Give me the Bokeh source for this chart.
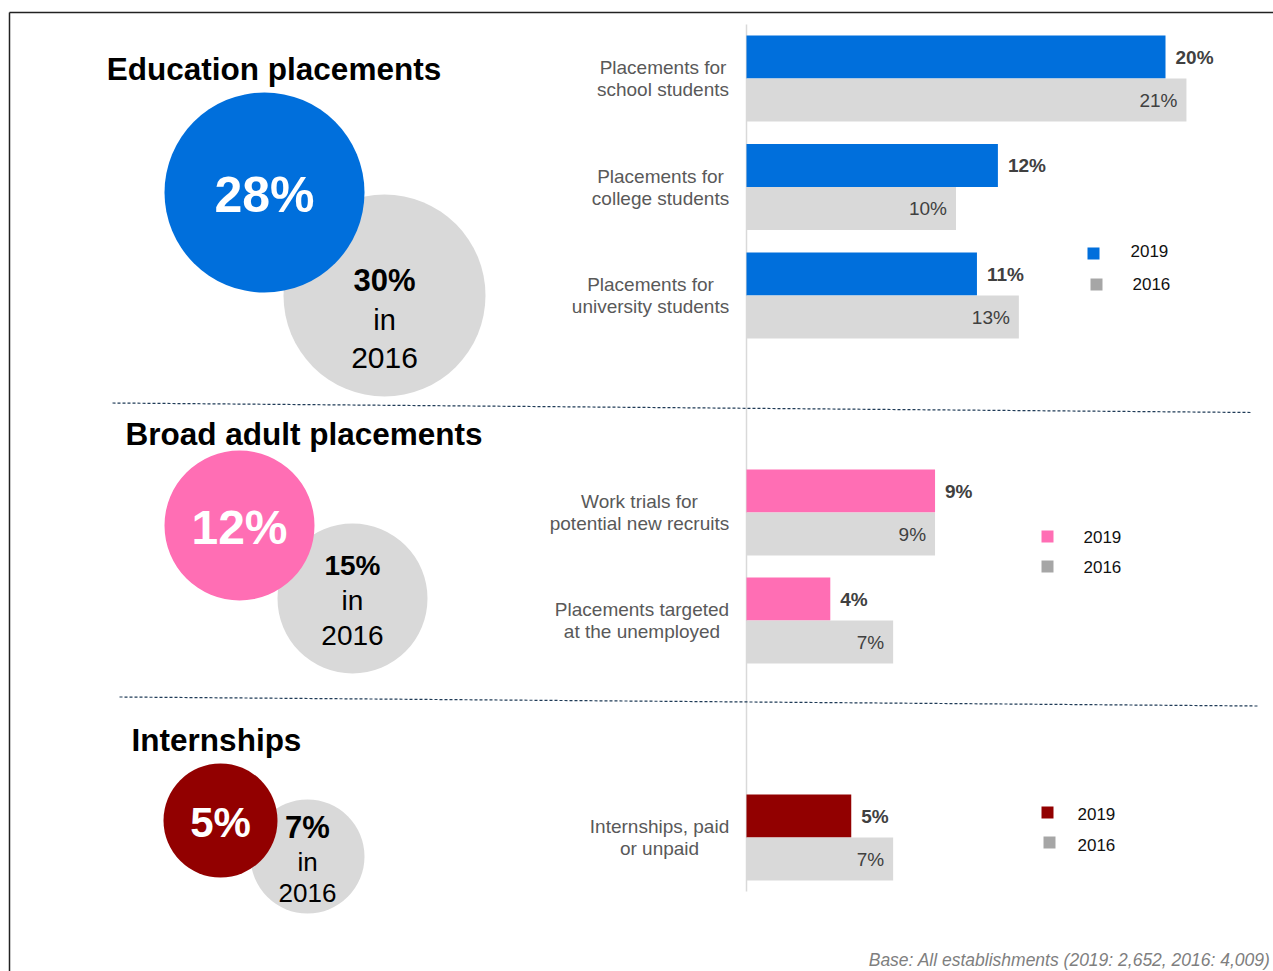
from bokeh.plotting import figure
from bokeh.models import Range1d, ColumnDataSource
from bokeh.core.properties import value
from bokeh.embed import file_html
from bokeh.resources import INLINE

# ---------------- data ----------------
section_titles = ["Education placements", "Broad adult placements", "Internships"]
totals_2019 = [28, 12, 5]
totals_2016 = [30, 15, 7]

edu_cats = [["Placements for", "school students"],
            ["Placements for", "college students"],
            ["Placements for", "university students"]]
edu_2019 = [20, 12, 11]
edu_2016 = [21, 10, 13]

adult_cats = [["Work trials for", "potential new recruits"],
              ["Placements targeted", "at the unemployed"]]
adult_2019 = [9, 4]
adult_2016 = [9, 7]

intern_cats = [["Internships, paid", "or unpaid"]]
intern_2019 = [5]
intern_2016 = [7]

legend_labels = ["2019", "2016"]
footnote = "Base: All establishments (2019: 2,652, 2016: 4,009)"

# ---------------- style / layout ----------------
FONT = value("Liberation Sans")
BLUE = "#006fdc"
PINK = "#ff6eb4"
RED = "#920000"
GREY_BAR = "#d9d9d9"
GREY_LEG = "#a6a6a6"
TXT = "#404040"
CAT_TXT = "#595959"

W, H = 1273, 971
p = figure(width=W, height=H, output_backend="svg", toolbar_location=None,
           x_range=Range1d(0, W), y_range=Range1d(H, 0), min_border=0)
p.axis.visible = False
p.grid.visible = False
p.outline_line_color = None
p.background_fill_color = "white"

# percentage scale for bars: 0% at x=746, 20.95 px per percent
ZERO_X, PX_PER = 746, 20.95
p.extra_x_ranges = {"pct": Range1d((0 - ZERO_X) / PX_PER, (W - ZERO_X) / PX_PER)}

# frame lines
p.line([9, W], [12, 12], line_color="#222222", line_width=1.5)
p.line([9, 9], [12, H], line_color="#222222", line_width=1.5)

# vertical axis line
p.line([ZERO_X, ZERO_X], [24, 891], line_color="#d9d9d9", line_width=1.5)

# dashed separators
p.line([112, 1250], [402.5, 412], line_color="#1f3b57", line_width=1.2, line_dash="3 2")
p.line([119, 1257], [696.5, 705.5], line_color="#1f3b57", line_width=1.2, line_dash="3 2")

sections = [
    dict(cats=edu_cats, v19=edu_2019, v16=edu_2016, color=BLUE,
         centers=[78, 186.5, 295], cat_x=[662.5, 660, 650],
         leg=[(1093, 253, 1130, 250), (1096, 284, 1132, 283)]),
    dict(cats=adult_cats, v19=adult_2019, v16=adult_2016, color=PINK,
         centers=[512, 620], cat_x=[639, 641.5],
         leg=[(1047, 536, 1083, 536), (1047, 566, 1083, 566)]),
    dict(cats=intern_cats, v19=intern_2019, v16=intern_2016, color=RED,
         centers=[837], cat_x=[659],
         leg=[(1047, 812, 1077, 813), (1049, 842, 1077, 844)]),
]

BAR_H = 43
for s in sections:
    y19 = [c - BAR_H / 2 for c in s["centers"]]
    y16 = [c + BAR_H / 2 for c in s["centers"]]
    src19 = ColumnDataSource(dict(y=y19, v=s["v19"], lab=[f"{v}%" for v in s["v19"]]))
    src16 = ColumnDataSource(dict(y=y16, v=s["v16"], lab=[f"{v}%" for v in s["v16"]]))
    p.hbar(y="y", left=0, right="v", height=BAR_H, source=src19, x_range_name="pct",
           fill_color=s["color"], line_color=None)
    p.hbar(y="y", left=0, right="v", height=BAR_H, source=src16, x_range_name="pct",
           fill_color=GREY_BAR, line_color=None)
    p.text(x="v", y="y", text="lab", source=src19, x_range_name="pct", x_offset=10,
           text_align="left", text_baseline="middle", text_font=FONT,
           text_font_size="19px", text_font_style="bold", text_color=TXT)
    p.text(x="v", y="y", text="lab", source=src16, x_range_name="pct", x_offset=-9,
           text_align="right", text_baseline="middle", text_font=FONT,
           text_font_size="19px", text_color=TXT)
    # category labels (two centred lines)
    for cat, c, cx in zip(s["cats"], s["centers"], s["cat_x"]):
        p.text(x=[cx, cx], y=[c - 11, c + 11], text=cat, text_align="center",
               text_baseline="middle", text_font=FONT, text_font_size="19px",
               text_color=CAT_TXT)
    # legend
    (sx1, sy1, tx1, ty1), (sx2, sy2, tx2, ty2) = s["leg"]
    p.scatter([sx1], [sy1], marker="square", size=12, fill_color=s["color"], line_color=None)
    p.scatter([sx2], [sy2], marker="square", size=12, fill_color=GREY_LEG, line_color=None)
    p.text(x=[tx1, tx2], y=[ty1, ty2], text=legend_labels, text_align="left",
           text_baseline="middle", text_font=FONT, text_font_size="17px", text_color="#111111")

# ---------------- left summary circles ----------------
circ = [
    dict(title_xy=(273.5, 68), title_size="31.5px",
         c1=(264, 192, 100), c2=(384, 295, 101), color=BLUE,
         big_size="50px", small_ys=(280, 319, 357), small_sizes=("31px", "29px", "30px")),
    dict(title_xy=(303.5, 433), title_size="31.5px",
         c1=(239, 525, 75), c2=(352, 598, 75), color=PINK,
         big_size="48px", small_ys=(565, 600, 635), small_sizes=("28px", "28px", "28px")),
    dict(title_xy=(216, 739), title_size="31.5px",
         c1=(220, 820, 57), c2=(307, 856, 57), color=RED,
         big_size="42px", small_ys=(827, 861, 892), small_sizes=("31px", "26px", "26px")),
]

for i, c in enumerate(circ):
    tx, ty = c["title_xy"]
    p.text(x=[tx], y=[ty], text=[section_titles[i]], text_align="center",
           text_baseline="middle", text_font=FONT, text_font_size=c["title_size"],
           text_font_style="bold", text_color="#000000")
    x2, y2, r2 = c["c2"]
    p.circle(x=[x2], y=[y2], radius=r2, fill_color=GREY_BAR, line_color=None)
    x1, y1, r1 = c["c1"]
    p.circle(x=[x1], y=[y1], radius=r1, fill_color=c["color"], line_color=None)
    p.text(x=[x1], y=[y1 + 2], text=[f"{totals_2019[i]}%"], text_align="center",
           text_baseline="middle", text_font=FONT, text_font_size=c["big_size"],
           text_font_style="bold", text_color="white")
    ys = c["small_ys"]
    sz = c["small_sizes"]
    p.text(x=[x2], y=[ys[0]], text=[f"{totals_2016[i]}%"], text_align="center",
           text_baseline="middle", text_font=FONT, text_font_size=sz[0],
           text_font_style="bold", text_color="#000000")
    p.text(x=[x2], y=[ys[1]], text=["in"], text_align="center",
           text_baseline="middle", text_font=FONT, text_font_size=sz[1], text_color="#000000")
    p.text(x=[x2], y=[ys[2]], text=["2016"], text_align="center",
           text_baseline="middle", text_font=FONT, text_font_size=sz[2], text_color="#000000")

# footnote
p.text(x=[1270], y=[969], text=[footnote], text_align="right",
       text_baseline="bottom", text_font=FONT, text_font_size="17.5px",
       text_font_style="italic", text_color="#7f7f7f")

open("out.html", "w").write(file_html(p, INLINE))
